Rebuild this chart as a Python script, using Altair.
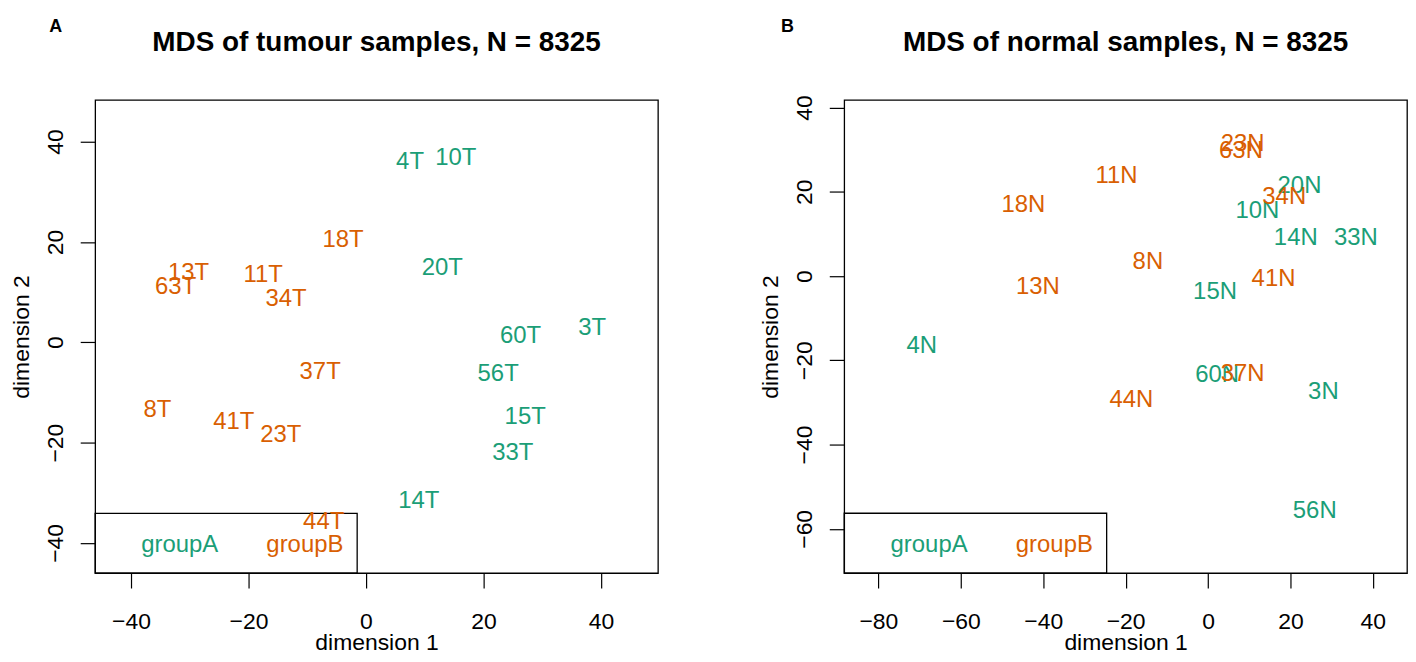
import altair as alt
import pandas as pd

FONT = "Liberation Sans"
GREEN = "#1B9E77"
ORANGE = "#D95F02"
GROUPS = ["groupA", "groupB"]

# ---- Panel A: tumour samples ----
tum_labels = ["4T", "10T", "18T", "20T", "13T", "63T", "11T", "34T", "60T", "3T",
              "37T", "56T", "8T", "15T", "41T", "23T", "33T", "14T", "44T"]
tum_x = [7.5, 15.3, -3.9, 13.0, -30.2, -32.4, -17.5, -13.6, 26.3, 38.5,
         -7.8, 22.5, -35.5, 27.1, -22.5, -14.5, 25.0, 9.0, -7.2]
tum_y = [36.1, 37.0, 20.5, 15.0, 14.0, 11.2, 13.5, 8.9, 1.5, 3.0,
         -5.7, -6.1, -13.3, -14.7, -15.8, -18.2, -21.9, -31.4, -35.6]
tum_group = ["groupA", "groupA", "groupB", "groupA", "groupB", "groupB", "groupB", "groupB", "groupA", "groupA",
             "groupB", "groupA", "groupB", "groupA", "groupB", "groupB", "groupA", "groupA", "groupB"]

# ---- Panel B: normal samples ----
nor_labels = ["23N", "63N", "11N", "20N", "34N", "18N", "10N", "14N", "33N", "8N",
              "41N", "13N", "15N", "4N", "60N", "37N", "3N", "44N", "56N"]
nor_x = [8.4, 8.0, -22.2, 22.2, 18.5, -44.8, 12.0, 21.3, 35.9, -14.6,
         15.9, -41.3, 1.7, -69.5, 2.2, 8.4, 28.0, -18.6, 25.9]
nor_y = [31.5, 29.8, 24.0, 21.7, 19.1, 17.2, 15.7, 9.3, 9.3, 3.5,
         -0.4, -2.3, -3.5, -16.3, -23.2, -23.1, -27.3, -29.1, -55.5]
nor_group = ["groupB", "groupB", "groupB", "groupA", "groupB", "groupB", "groupA", "groupA", "groupA", "groupB",
             "groupB", "groupB", "groupA", "groupA", "groupA", "groupB", "groupA", "groupB", "groupA"]

# axis ranges and ticks
tum_xdom = [-46.1, 49.7]
tum_ydom = [-46.0, 48.3]
tum_xticks = [-40, -20, 0, 20, 40]
tum_yticks = [-40, -20, 0, 20, 40]
nor_xdom = [-88.3, 48.3]
nor_ydom = [-70.5, 41.8]
nor_xticks = [-80, -60, -40, -20, 0, 20, 40]
nor_yticks = [-60, -40, -20, 0, 20, 40]

# legend boxes (x1, x2, y1, y2 in data units) and legend label positions
tum_legbox = [tum_xdom[0], -1.5, tum_ydom[0], -34.1]
tum_legx = [-31.7, -10.4]
tum_legy = [-40.3, -40.3]
nor_legbox = [nor_xdom[0], -24.6, nor_ydom[0], -56.3]
nor_legx = [-67.7, -37.3]
nor_legy = [-63.6, -63.6]

W, H = 565, 475


def panel(labels, xs, ys, groups, xdom, ydom, xticks, yticks, legbox, legx, legy,
          title, letter, letter_x):
    df = pd.DataFrame({"label": labels, "x": xs, "y": ys, "group": groups})
    df["o"] = [0 if g == "groupA" else 1 for g in groups]
    df = df.sort_values("o", kind="stable")

    xscale = alt.Scale(domain=xdom, nice=False, zero=False)
    yscale = alt.Scale(domain=ydom, nice=False, zero=False)
    cscale = alt.Scale(domain=GROUPS, range=[GREEN, ORANGE])

    xaxis = alt.Axis(values=xticks, title="dimension 1", grid=False, domain=False,
                     tickSize=15, tickColor="black", tickWidth=1.2,
                     labelFont=FONT, labelFontSize=23, labelColor="black",
                     labelBaseline="alphabetic", labelPadding=41,
                     labelFlush=False, labelOverlap=False,
                     titleFont=FONT, titleFontSize=23, titleFontWeight="normal",
                     titleColor="black", titleBaseline="alphabetic",
                     titleX=W / 2, titleY=77, titleAlign="center")
    yaxis = alt.Axis(values=yticks, title="dimension 2", grid=False, domain=False,
                     tickSize=15, tickColor="black", tickWidth=1.2,
                     labelFont=FONT, labelFontSize=23, labelColor="black",
                     labelAngle=270, labelAlign="center", labelBaseline="alphabetic",
                     labelPadding=17.5, labelFlush=False, labelOverlap=False,
                     titleFont=FONT, titleFontSize=23, titleFontWeight="normal",
                     titleColor="black", titleAngle=270, titleBaseline="alphabetic",
                     titleX=-66.5, titleY=H / 2, titleAlign="center")

    pts = alt.Chart(df).mark_text(font=FONT, fontSize=24, baseline="middle", dy=1).encode(
        x=alt.X("x:Q", scale=xscale, axis=xaxis),
        y=alt.Y("y:Q", scale=yscale, axis=yaxis),
        text="label:N",
        color=alt.Color("group:N", scale=cscale, legend=None),
    )

    box_df = pd.DataFrame({"x1": [legbox[0]], "x2": [legbox[1]], "y1": [legbox[2]], "y2": [legbox[3]]})
    box = alt.Chart(box_df).mark_rect(fill=None, stroke="black", strokeWidth=1.3).encode(
        x=alt.X("x1:Q", scale=xscale), x2="x2:Q",
        y=alt.Y("y1:Q", scale=yscale), y2="y2:Q",
    )

    leg_df = pd.DataFrame({"label": GROUPS, "x": legx, "y": legy})
    leg = alt.Chart(leg_df).mark_text(font=FONT, fontSize=24, baseline="middle", dy=1).encode(
        x=alt.X("x:Q", scale=xscale), y=alt.Y("y:Q", scale=yscale),
        text="label:N",
        color=alt.Color("label:N", scale=cscale, legend=None),
    )

    t_df = pd.DataFrame({"t": [title]})
    ttl = alt.Chart(t_df).mark_text(font=FONT, fontSize=28, fontWeight="bold",
                                    baseline="alphabetic", align="center", color="black").encode(
        text="t:N", x=alt.value(W / 2), y=alt.value(-49.5))

    l_df = pd.DataFrame({"t": [letter]})
    let = alt.Chart(l_df).mark_text(font=FONT, fontSize=18, fontWeight="bold",
                                    baseline="alphabetic", align="center", color="black").encode(
        text="t:N", x=alt.value(letter_x), y=alt.value(-68))

    return alt.layer(box, pts, leg, ttl, let).properties(width=W, height=H)


pa = panel(tum_labels, tum_x, tum_y, tum_group, tum_xdom, tum_ydom, tum_xticks, tum_yticks,
           tum_legbox, tum_legx, tum_legy, "MDS of tumour samples, N = 8325", "A", -39.5)
pb = panel(nor_labels, nor_x, nor_y, nor_group, nor_xdom, nor_ydom, nor_xticks, nor_yticks,
           nor_legbox, nor_legx, nor_legy, "MDS of normal samples, N = 8325", "B", -57)

chart = alt.hconcat(pa, pb, spacing=100).properties(
    padding={"left": 1.5, "top": 8, "right": 0, "bottom": 0}
).configure(background="white").configure_view(stroke="black", strokeWidth=1.3)

chart.save("out.html", embed_options={"renderer": "svg", "actions": False})
